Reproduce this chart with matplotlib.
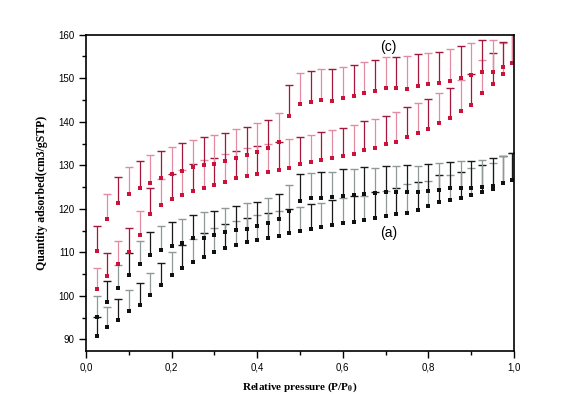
import numpy as np
import matplotlib.pyplot as plt

# --- data ---
pressure = [0.025, 0.05, 0.075, 0.1, 0.125, 0.15, 0.175, 0.2, 0.225, 0.25,
            0.275, 0.3, 0.325, 0.35, 0.375, 0.4, 0.425, 0.45, 0.475, 0.5,
            0.525, 0.55, 0.575, 0.6, 0.625, 0.65, 0.675, 0.7, 0.725, 0.75,
            0.775, 0.8, 0.825, 0.85, 0.875, 0.9, 0.925, 0.95, 0.975, 0.995]

# (a) adsorption / desorption branch and top of the error bar
a_ads = [90.8, 92.9, 94.4, 96.6, 98.0, 100.25, 102.4, 104.8, 106.4, 107.8,
         109.0, 110.1, 111.05, 111.7, 112.3, 112.8, 113.35, 113.8, 114.4, 114.8,
         115.3, 115.75, 116.2, 116.65, 117.0, 117.35, 118.0, 118.4, 118.9, 118.95,
         119.7, 120.6, 121.55, 122.1, 122.4, 123.25, 123.8, 124.55, 126.0, 126.6]
a_ads_top = [95.2, 97.35, 99.2, 101.3, 102.9, 105.2, 107.5, 110.0, 111.6, 113.1,
             114.4, 115.5, 116.5, 117.2, 117.8, 118.5, 119.0, 119.4, 119.9, 120.5,
             121.0, 121.25, 121.95, 122.4, 122.9, 123.0, 123.8, 124.1, 124.85, 125.6,
             126.1, 126.5, 127.7, 127.8, 128.5, 129.3, 130.0, 130.6, 132.05, 132.75]
a_des = [95.2, 98.6, 101.9, 104.85, 107.3, 109.4, 110.5, 111.5, 112.1, 113.2,
         113.4, 114.0, 114.7, 115.1, 115.4, 116.0, 116.8, 117.6, 119.6, 121.8,
         122.4, 122.55, 122.8, 123.0, 123.2, 123.4, 123.55, 123.9, 123.8, 123.9,
         123.85, 124.15, 124.3, 124.7, 124.85, 124.8, 124.9, 125.2, 126.0, 126.6]
a_des_top = [99.95, 103.5, 107.0, 109.9, 112.7, 114.7, 116.0, 117.0, 117.7, 118.5,
             119.2, 119.55, 120.1, 120.6, 121.25, 121.6, 122.5, 123.5, 125.4, 127.9,
             128.15, 128.4, 128.5, 129.05, 129.2, 129.5, 129.45, 129.75, 129.9, 130.05,
             129.9, 130.2, 130.6, 130.7, 130.9, 130.9, 131.3, 131.75, 132.05, 132.75]

# (c) adsorption / desorption branch and top of the error bar
c_ads = [101.5, 104.55, 107.3, 110.1, 113.9, 118.7, 120.9, 122.3, 123.25, 124.1,
         124.85, 125.5, 126.15, 127.0, 127.5, 128.0, 128.45, 129.0, 129.45, 130.2,
         130.8, 131.2, 131.6, 132.2, 132.6, 133.5, 133.9, 134.8, 135.4, 136.6,
         137.35, 138.3, 139.6, 140.8, 142.5, 143.9, 146.7, 148.7, 150.9, 153.4]
c_ads_top = [106.5, 109.9, 112.7, 115.7, 119.4, 124.7, 126.9, 127.9, 128.9, 130.3,
             131.1, 131.7, 132.5, 133.35, 133.9, 134.4, 134.8, 135.3, 136.0, 136.5,
             137.0, 137.7, 138.1, 138.6, 139.25, 140.2, 140.6, 141.4, 142.2, 143.5,
             144.2, 145.2, 146.5, 147.7, 149.5, 151.0, 154.2, 155.9, 158.0, 162.0]
c_des = [110.4, 117.6, 121.4, 123.4, 124.8, 126.0, 127.0, 127.9, 128.75, 129.7,
         130.05, 130.35, 131.0, 131.6, 132.3, 133.0, 133.9, 135.25, 141.4, 144.0,
         144.6, 145.0, 144.8, 145.4, 146.0, 146.7, 147.1, 147.7, 147.8, 147.6,
         148.2, 148.7, 148.8, 149.4, 150.0, 150.7, 151.5, 151.4, 152.5, 153.4]
c_des_top = [116.0, 123.4, 127.4, 129.5, 131.05, 132.3, 133.35, 134.2, 135.05, 135.7,
             136.5, 136.9, 137.35, 138.3, 138.8, 139.6, 140.5, 142.1, 148.45, 151.1,
             151.7, 152.1, 152.05, 152.65, 153.1, 153.8, 154.2, 154.95, 154.95, 155.1,
             155.5, 155.9, 156.1, 156.8, 157.4, 158.2, 158.8, 158.8, 158.4, 162.0]

x_ticks = [0.0, 0.2, 0.4, 0.6, 0.8, 1.0]
x_labels = ['0,0', '0,2', '0,4', '0,6', '0,8', '1,0']
y_ticks = [90, 100, 110, 120, 130, 140, 150, 160]

plt.rcParams['mathtext.fontset'] = 'stix'

fig = plt.figure(figsize=(5.84, 4.13), dpi=100)
ax = fig.add_axes([0.1473, 0.1508, 0.7329, 0.7652])


def draw_branch(y, top, color, bar_colors):
    # upper error bar with cap; neighbouring bars alternate dark/light
    x = np.array(pressure)
    y = np.array(y)
    top = np.array(top)
    for i, bc in enumerate(bar_colors):
        s = slice(i, None, 2)
        ax.vlines(x[s], y[s], top[s], colors=bc, linewidth=0.9)
        ax.plot(x[s], top[s], ls='none', marker='_', ms=5.5, mew=1.0, color=bc)
    ax.plot(x, y, ls='none', marker='s', ms=2.2, mfc=color, mec=color, mew=0)


draw_branch(a_ads, a_ads_top, '#111111', ['#1a1a1a', '#8f9996'])
draw_branch(a_des, a_des_top, '#111111', ['#8f9996', '#1a1a1a'])
draw_branch(c_ads, c_ads_top, '#cc1238', ['#e38ba2', '#a3173c'])
draw_branch(c_des, c_des_top, '#cc1238', ['#a3173c', '#e38ba2'])

ax.set_xlim(0, 1.0)
ax.set_ylim(87.4, 160)
ax.set_xticks(x_ticks)
ax.set_xticklabels(x_labels)
ax.set_xticks([0.1, 0.3, 0.5, 0.7, 0.9], minor=True)
ax.set_yticks(y_ticks)
ax.set_yticks([95, 105, 115, 125, 135, 145, 155], minor=True)
ax.tick_params(which='major', direction='out', length=5, width=1, labelsize=7)
ax.tick_params(which='minor', direction='out', length=3, width=1)
for lab in ax.get_xticklabels() + ax.get_yticklabels():
    lab.set_family('Liberation Sans')
for sp in ax.spines.values():
    sp.set_linewidth(1.2)

ax.set_xlabel(r'Relative pressure (P/P$_\mathbf{0}$)', family='Liberation Serif',
              fontweight='bold', fontsize=8)
ax.set_ylabel('Quantity adsorbed(cm3/gSTP)', family='Liberation Serif',
              fontweight='bold', fontsize=8.5)
ax.xaxis.set_label_coords(0.5, -0.095)
ax.yaxis.set_label_coords(-0.09, 0.5)

ax.text(0.706, 157.2, '(c)', family='Liberation Sans', fontsize=10,
        ha='center', va='center')
ax.text(0.708, 114.4, '(a)', family='Liberation Sans', fontsize=10,
        ha='center', va='center')

fig.savefig('out.png', dpi=100)
